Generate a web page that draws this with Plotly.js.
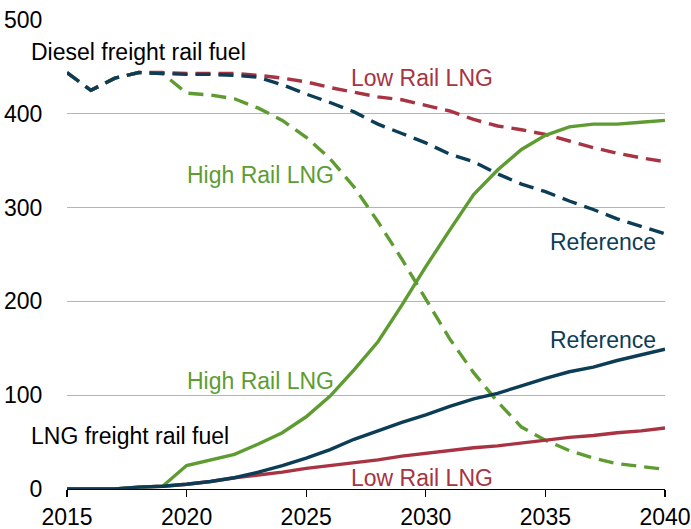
<!DOCTYPE html>
<html>
<head>
<meta charset="utf-8">
<script src="https://cdn.plot.ly/plotly-3.0.1.min.js"></script>
<style>
html,body{margin:0;padding:0;background:#fff;}
#chart{width:691px;height:529px;}
</style>
</head>
<body>
<div id="chart"></div>
<script>
var years = [2015,2016,2017,2018,2019,2020,2021,2022,2023,2024,2025,2026,2027,2028,2029,2030,2031,2032,2033,2034,2035,2036,2037,2038,2039,2040];

// Diesel freight rail fuel (dashed)
var dieselReference = [444,425,438,444,443,442,442,441,439,431,421,412,402,389,379,369,357,349,336,325,317,307,298,288,280,272];
var dieselLow       = [444,425,438,444,444,443,443,443,441,438,434,428,423,418,415,409,403,394,387,383,378,371,364,358,353,349];
var dieselHigh      = [444,425,438,444,443,422,420,416,406,393,375,352,322,285,245,203,160,124,93,66,52,41,33,27,24,21];

// LNG freight rail fuel (solid)
var lngReference = [0,0,0,2,3,5,8,12,18,25,33,42,53,62,71,79,88,96,102,110,118,125,130,137,143,149];
var lngLow       = [0,0,0,2,3,5,8,12,15,18,22,25,28,31,35,38,41,44,46,49,52,55,57,60,62,65];
var lngHigh      = [0,0,0,2,3,25,31,37,48,60,77,99,127,157,196,237,276,314,340,362,377,386,389,389,391,393];

var xTicks = [2015,2020,2025,2030,2035,2040];
var yTicks = [0,100,200,300,400,500];

var cBlue = '#0c3d57', cRed = '#a83342', cGreen = '#5e9c31';
var dashPat = '15px,8px';

function tr(y, color, dash){
  return {x: years, y: y, type: 'scatter', mode: 'lines',
    line: {color: color, width: 3.4, dash: dash || 'solid'},
    hoverinfo: 'skip', showlegend: false};
}

var data = [
  tr(dieselLow, cRed, dashPat),
  tr(dieselHigh, cGreen, dashPat),
  tr(dieselReference, cBlue, dashPat),
  tr(lngLow, cRed),
  tr(lngHigh, cGreen),
  tr(lngReference, cBlue)
];

var F = 'Liberation Sans, Arial, sans-serif';
var FS = 23;
function ann(text, px, py, color){
  return {text: text, xref: 'paper', yref: 'paper',
    x: (px - 67) / 598, y: (489.5 - py) / 469.5,
    xanchor: 'left', yanchor: 'middle', showarrow: false,
    font: {family: F, size: FS, color: color}};
}

var layout = {
  width: 691, height: 529,
  margin: {l: 67, r: 26, t: 20, b: 39.5, pad: 0},
  paper_bgcolor: '#fff', plot_bgcolor: '#fff',
  font: {family: F, size: FS, color: '#000'},
  showlegend: false,
  xaxis: {
    range: [2015, 2040], tickvals: xTicks, ticktext: xTicks.map(String),
    showgrid: false, zeroline: false, showline: true, linecolor: '#000', linewidth: 1.3,
    ticks: 'outside', ticklen: 7, tickwidth: 1.3, tickcolor: '#000',
    tickfont: {family: F, size: FS, color: '#000'}, fixedrange: true
  },
  yaxis: {
    range: [0, 500], tickvals: yTicks, ticktext: yTicks.map(String),
    showgrid: true, gridcolor: '#b4b4b4', gridwidth: 1.2, zeroline: false, showline: false,
    ticks: 'outside', ticklen: 19, tickcolor: 'rgba(0,0,0,0)',
    tickfont: {family: F, size: FS, color: '#000'}, fixedrange: true
  },
  annotations: [
    ann('Diesel freight rail fuel', 29, 52, '#000'),
    ann('Low Rail LNG', 349, 78, cRed),
    ann('High Rail LNG', 185, 175, cGreen),
    ann('Reference', 548, 242, cBlue),
    ann('Reference', 548, 340, cBlue),
    ann('High Rail LNG', 185, 381, cGreen),
    ann('LNG freight rail fuel', 29, 436, '#000'),
    ann('Low Rail LNG', 349, 478, cRed)
  ]
};

Plotly.newPlot('chart', data, layout, {displayModeBar: false, staticPlot: true});
</script>
</body>
</html>
